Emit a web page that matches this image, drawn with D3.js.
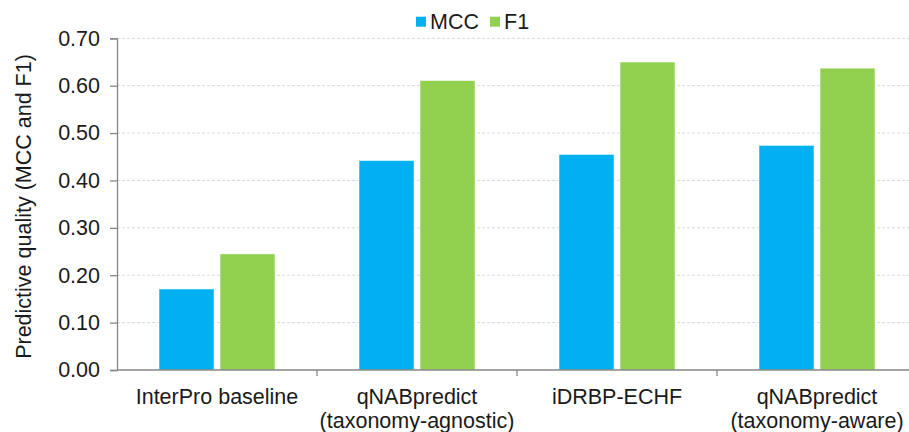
<!DOCTYPE html>
<html>
<head>
<meta charset="utf-8">
<script src="https://cdn.jsdelivr.net/npm/d3@7"></script>
<style>
  html, body { margin: 0; padding: 0; background: #fff; }
  svg { display: block; font-family: "Liberation Sans", Arial, sans-serif; }
</style>
</head>
<body>
<svg id="chart" width="909" height="432"></svg>
<script>
// Method names (each may wrap onto two lines)
const categories = [
  ["InterPro baseline"],
  ["qNABpredict", "(taxonomy-agnostic)"],
  ["iDRBP-ECHF"],
  ["qNABpredict", "(taxonomy-aware)"]
];
const seriesNames = ["MCC", "F1"];
const mccValues = [0.171, 0.442, 0.455, 0.474];
const f1Values = [0.245, 0.611, 0.650, 0.637];
const yTicks = [0, 0.1, 0.2, 0.3, 0.4, 0.5, 0.6, 0.7];
const seriesColors = ["#00B0F0", "#92D050"];

const svg = d3.select("#chart");
const fontSize = 21.5;
const margin = { left: 117, right: -8, top: 38.3, bottom: 62 };
const W = 909, H = 432;
const plotW = W - margin.left - margin.right;
const plotH = H - margin.top - margin.bottom;

const keys = categories.map(c => c.join(" "));
const x = d3.scaleBand().domain(keys).range([0, plotW]).paddingInner(0).paddingOuter(0);
const y = d3.scaleLinear().domain([0, 0.7]).range([plotH, 0]);
const barW = 55, barGap = 6;
const x1 = d3.scaleOrdinal().domain(seriesNames)
  .range([-(barW + barGap / 2), barGap / 2]);

const g = svg.append("g").attr("transform", `translate(${margin.left},${margin.top})`);

// horizontal dotted gridlines
g.append("g").selectAll("line").data(yTicks.filter(t => t > 0)).join("line")
  .attr("x1", 0).attr("x2", plotW)
  .attr("y1", d => y(d)).attr("y2", d => y(d))
  .attr("stroke", "#d9d9d9").attr("stroke-width", 1)
  .attr("stroke-dasharray", "3,2");

// bars
const rows = keys.map((k, i) => ({ key: k, values: [mccValues[i], f1Values[i]] }));
const groups = g.append("g").selectAll("g").data(rows).join("g")
  .attr("transform", d => `translate(${x(d.key) + x.bandwidth() / 2},0)`);
groups.selectAll("rect").data(d => d.values.map((v, j) => ({ name: seriesNames[j], v, j })))
  .join("rect")
  .attr("x", d => x1(d.name))
  .attr("width", barW)
  .attr("y", d => y(d.v))
  .attr("height", d => y(0) - y(d.v))
  .attr("fill", d => seriesColors[d.j])
  .attr("stroke", "#ffffff").attr("stroke-opacity", 0.55).attr("stroke-width", 1);

// y axis
const yAxis = d3.axisLeft(y).tickValues(yTicks).tickFormat(d3.format(".2f"))
  .tickSize(7).tickPadding(10);
const ya = g.append("g").call(yAxis);
ya.select(".domain").attr("stroke", "#868686").attr("stroke-width", 1.3);
ya.selectAll(".tick line").attr("stroke", "#868686").attr("stroke-width", 1.3);
ya.selectAll(".tick text").attr("font-size", fontSize).attr("fill", "#1a1a1a")
  .attr("font-family", "Liberation Sans, Arial, sans-serif");

// x axis baseline with ticks at band boundaries
const xa = g.append("g").attr("transform", `translate(0,${plotH})`);
xa.append("line").attr("x1", 0).attr("x2", plotW).attr("y1", 0).attr("y2", 0)
  .attr("stroke", "#868686").attr("stroke-width", 1.3);
xa.selectAll("line.tk").data(keys.slice(1)).join("line").attr("class", "tk")
  .attr("x1", d => x(d)).attr("x2", d => x(d)).attr("y1", 0).attr("y2", 6)
  .attr("stroke", "#868686").attr("stroke-width", 1.3);
xa.selectAll("text").data(categories).join("text")
  .attr("x", (d, i) => x(keys[i]) + x.bandwidth() / 2)
  .attr("y", 33.5)
  .attr("text-anchor", "middle")
  .attr("font-size", fontSize).attr("fill", "#1a1a1a")
  .selectAll("tspan").data(d => d).join("tspan")
  .attr("x", function () { return d3.select(this.parentNode).attr("x"); })
  .attr("dy", (d, i) => i === 0 ? 0 : 24)
  .text(d => d);

// y axis title
svg.append("text")
  .attr("transform", `translate(31,206.5) rotate(-90)`)
  .attr("text-anchor", "middle")
  .attr("font-size", fontSize).attr("fill", "#1a1a1a")
  .text("Predictive quality (MCC and F1)");

// legend
const legend = svg.append("g");
const legendItems = [
  { name: seriesNames[0], color: seriesColors[0], x: 416 },
  { name: seriesNames[1], color: seriesColors[1], x: 490 }
];
legendItems.forEach(it => {
  legend.append("rect").attr("x", it.x).attr("y", 16.7).attr("width", 10).attr("height", 10)
    .attr("fill", it.color);
  legend.append("text").attr("x", it.x + 14).attr("y", 29)
    .attr("font-size", fontSize).attr("fill", "#1a1a1a").text(it.name);
});
</script>
</body>
</html>
